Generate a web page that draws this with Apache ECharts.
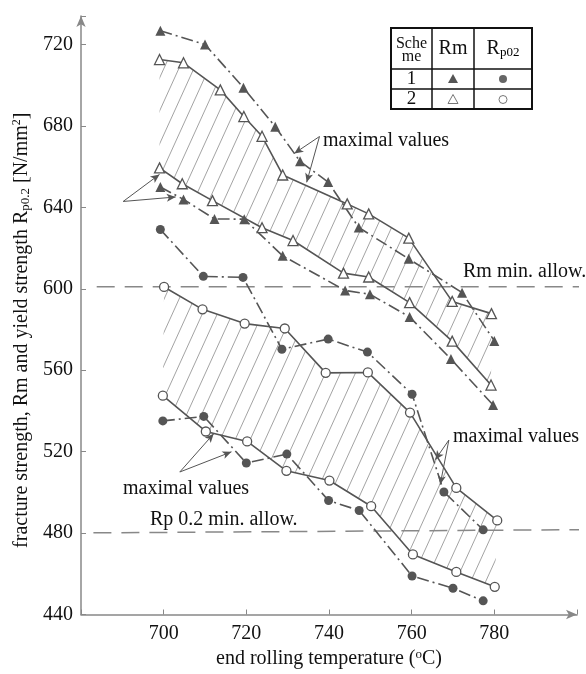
<!DOCTYPE html>
<html><head><meta charset="utf-8">
<script src="https://cdn.jsdelivr.net/npm/echarts@6/dist/echarts.min.js"></script>
<style>html,body{margin:0;padding:0;background:#fff}#c{width:586px;height:674px}</style>
</head><body><div id="c"></div>
<script>
// ---------- data ----------
const xTickLabels = [700, 720, 740, 760, 780];
const yTickLabels = [440, 480, 520, 560, 600, 640, 680, 720];

// Rm, scheme 1 (filled triangles), upper and lower curves
const rm1UpperX = [699.2, 710.0, 719.3, 727.0, 733.0, 739.8, 747.2, 759.3, 772.2, 780.0];
const rm1UpperY = [726.8, 720.0, 698.8, 679.6, 662.6, 652.4, 630.1, 614.7, 598.1, 574.4];
const rm1LowerX = [699.2, 704.8, 712.3, 719.5, 728.8, 743.9, 749.9, 759.5, 769.5, 779.7];
const rm1LowerY = [650.0, 643.9, 634.3, 634.2, 616.2, 599.2, 597.3, 586.2, 565.5, 542.9];
// Rm, scheme 2 (open triangles)
const rm2UpperX = [699.0, 704.8, 713.7, 719.4, 723.8, 728.8, 744.4, 749.6, 759.3, 769.8, 779.3];
const rm2UpperY = [712.6, 711.0, 697.7, 684.6, 674.9, 655.9, 641.7, 636.8, 624.9, 593.8, 587.8];
const rm2LowerX = [699.0, 704.5, 711.8, 723.8, 731.3, 743.5, 749.6, 759.5, 769.8, 779.2];
const rm2LowerY = [659.4, 651.6, 643.3, 630.0, 623.7, 607.7, 605.8, 593.2, 574.3, 552.7];
// Rp0.2, scheme 1 (filled circles)
const rp1UpperX = [699.2, 709.6, 719.2, 728.6, 739.8, 749.3, 760.1, 767.8, 777.3];
const rp1UpperY = [629.1, 606.1, 605.6, 570.3, 575.3, 568.9, 548.2, 500.2, 481.6];
const rp1LowerX = [699.8, 709.7, 720.0, 729.8, 739.9, 747.3, 760.1, 770.0, 777.3];
const rp1LowerY = [535.1, 537.3, 514.4, 518.8, 496.0, 491.1, 458.9, 452.9, 446.7];
// Rp0.2, scheme 2 (open circles)
const rp2UpperX = [700.1, 709.4, 719.6, 729.3, 739.2, 749.4, 759.6, 770.8, 780.7];
const rp2UpperY = [600.9, 589.9, 582.9, 580.5, 558.7, 558.9, 539.2, 502.2, 486.2];
const rp2LowerX = [699.8, 710.2, 720.2, 729.7, 740.1, 750.2, 760.3, 770.8, 780.1];
const rp2LowerY = [547.5, 529.9, 525.0, 510.6, 505.8, 493.2, 469.5, 460.9, 453.6];

// minimum allowed levels
const rmMinX = [683.8, 801.5];
const rmMinY = [601.0, 601.0];
const rpMinX = [683.0, 801.5];
const rpMinY = [480.1, 481.7];

// annotation leaders: [from, to] in data units
const leaderFrom = [[737.7, 674.8], [737.7, 674.8], [690.2, 642.9], [690.2, 642.9],
                    [769.0, 525.7], [769.0, 525.7], [703.9, 510.0], [703.9, 510.0]];
const leaderTo   = [[731.6, 666.5], [734.6, 652.3], [699.0, 656.2], [702.9, 645.1],
                    [766.9, 503.8], [765.7, 516.0], [712.1, 528.8], [716.4, 519.9]];

// ---------- chart ----------
const F = '"Liberation Serif","Times New Roman","DejaVu Serif",serif';
const INK = '#555';
const zip = (xs, ys) => xs.map((x, i) => [x, ys[i]]);

function hatchCanvas() {
  const w = 15, h = 33;
  const c = document.createElement('canvas');
  c.width = w; c.height = h;
  const g = c.getContext('2d');
  g.strokeStyle = '#999'; g.lineWidth = 0.9;
  g.beginPath();
  for (let k = -1; k <= 1; k++) { g.moveTo(k * w, h); g.lineTo((k + 1) * w, 0); }
  g.stroke();
  return c;
}
const hatch = { image: hatchCanvas(), repeat: 'repeat' };

function band(upper, lower) {
  return {
    type: 'custom', coordinateSystem: 'cartesian2d', silent: true, z: 1,
    data: [[740, 600]],
    renderItem: function (params, api) {
      const pts = upper.map(p => api.coord(p)).concat(lower.slice().reverse().map(p => api.coord(p)));
      return { type: 'polygon', shape: { points: pts }, style: { fill: hatch, stroke: null } };
    }
  };
}

function curve(data, symbol, filled, dashed) {
  return {
    type: 'line', data: data, symbol: symbol, symbolSize: symbol === 'triangle' ? 10 : 9,
    silent: true, z: 3,
    lineStyle: { color: INK, width: 1.6, type: dashed ? [12, 4, 2, 4] : 'solid' },
    itemStyle: { color: filled ? INK : '#fff', borderColor: INK, borderWidth: filled ? 0 : 1.3 }
  };
}

const rm1U = zip(rm1UpperX, rm1UpperY), rm1L = zip(rm1LowerX, rm1LowerY);
const rm2U = zip(rm2UpperX, rm2UpperY), rm2L = zip(rm2LowerX, rm2LowerY);
const rp1U = zip(rp1UpperX, rp1UpperY), rp1L = zip(rp1LowerX, rp1LowerY);
const rp2U = zip(rp2UpperX, rp2UpperY), rp2L = zip(rp2LowerX, rp2LowerY);

const minLine = (data) => ({
  type: 'line', data: data, symbol: 'none', clip: false, silent: true, z: 2,
  lineStyle: { color: '#888', width: 1.5, type: [18, 10] }
});

const leaderSeries = curve(rm1U, 'triangle', true, true);
leaderSeries.markLine = {
  silent: true, symbol: ['none', 'arrow'], symbolSize: [6, 9], animation: false,
  label: { show: false },
  lineStyle: { color: INK, width: 1, type: 'solid' },
  data: leaderFrom.map((p, i) => [{ coord: p }, { coord: leaderTo[i] }])
};

const txt = (x, y, s, size) => ({
  type: 'text', z: 10, silent: true,
  style: { x: x, y: y, text: s, font: (size || 20) + 'px ' + F, fill: '#111', verticalAlign: 'middle', align: 'left' }
});

// legend table (layout only)
const tx = [391, 432, 474, 532], ty = [28, 69, 89, 109];
const table = [];
table.push({ type: 'rect', shape: { x: tx[0], y: ty[0], width: tx[3] - tx[0], height: ty[3] - ty[0] },
  style: { fill: '#fff', stroke: '#111', lineWidth: 2 }, z: 9 });
[tx[1], tx[2]].forEach(x => table.push({ type: 'line', shape: { x1: x, y1: ty[0], x2: x, y2: ty[3] }, style: { stroke: '#111', lineWidth: 1.5 }, z: 10 }));
[ty[1], ty[2]].forEach(y => table.push({ type: 'line', shape: { x1: tx[0], y1: y, x2: tx[3], y2: y }, style: { stroke: '#111', lineWidth: 1.5 }, z: 10 }));
const ctr = (x, y, s, size) => ({ type: 'text', z: 11, style: { x: x, y: y, text: s, font: size + 'px ' + F, fill: '#111', align: 'center', verticalAlign: 'middle' } });
table.push(ctr(411.5, 44, 'Sche', 16), ctr(411.5, 57, 'me', 16), ctr(453, 49, 'Rm', 20));
table.push({ type: 'text', z: 11, style: { x: 503, y: 49, align: 'center', verticalAlign: 'middle',
  text: '{a|R}{b|p02}', rich: { a: { fontSize: 20, fontFamily: F, fill: '#111', color: '#111' }, b: { fontSize: 13, fontFamily: F, color: '#111', verticalAlign: 'bottom', padding: [8, 0, 0, 0] } } } });
table.push(ctr(411.5, 79, '1', 19), ctr(411.5, 99.5, '2', 19));
const tri = (cx, cy, filled) => ({ type: 'polygon', z: 11, shape: { points: [[cx, cy - 5], [cx + 5, cy + 4], [cx - 5, cy + 4]] },
  style: { fill: filled ? INK : '#fff', stroke: filled ? null : '#777', lineWidth: 1 } });
const cir = (cx, cy, filled) => ({ type: 'circle', z: 11, shape: { cx: cx, cy: cy, r: 4 },
  style: { fill: filled ? '#666' : '#fff', stroke: filled ? null : '#777', lineWidth: 1 } });
table.push(tri(453, 79, true), cir(503, 79, true), tri(453, 99.5, false), cir(503, 99.5, false));

const chart = echarts.init(document.getElementById('c'));
chart.setOption({
  animation: false,
  backgroundColor: '#fff',
  grid: { left: 81, right: 9, top: 16, bottom: 57 },
  xAxis: {
    type: 'value', min: 680, max: 800, interval: 20,
    axisLine: { lineStyle: { color: '#888', width: 1.5 }, symbol: ['none', 'arrow'], symbolSize: [7, 11] },
    axisTick: { inside: true, length: 5, lineStyle: { color: '#888' } },
    splitLine: { show: false },
    axisLabel: { margin: 9, color: '#111', fontSize: 20, fontFamily: F,
      formatter: v => xTickLabels.indexOf(v) >= 0 ? String(v) : '' },
    name: 'end rolling temperature ({s|o}C)', nameLocation: 'middle', nameGap: 34,
    nameTextStyle: { color: '#111', fontSize: 20, fontFamily: F,
      rich: { s: { fontSize: 13, fontFamily: F, color: '#111', verticalAlign: 'top', padding: [0, 0, 8, 0] } } }
  },
  yAxis: {
    type: 'value', min: 440, max: 734, interval: 40,
    axisLine: { lineStyle: { color: '#888', width: 1.5 }, symbol: ['none', 'arrow'], symbolSize: [7, 11] },
    axisTick: { inside: true, length: 5, lineStyle: { color: '#888' } },
    splitLine: { show: false },
    axisLabel: { margin: 8, color: '#111', fontSize: 20, fontFamily: F,
      formatter: v => yTickLabels.indexOf(v) >= 0 ? String(v) : '' },
    name: 'fracture strength, Rm and yield strength R{b|p0.2} [N/mm{s|2}]',
    nameLocation: 'middle', nameRotate: 90, nameGap: 42,
    nameTextStyle: { color: '#111', fontSize: 20, fontFamily: F, padding: [0, 30, 0, 0],
      rich: { b: { fontSize: 13, fontFamily: F, color: '#111', verticalAlign: 'bottom', padding: [8, 0, 0, 0] },
              s: { fontSize: 12, fontFamily: F, color: '#111', verticalAlign: 'top', padding: [0, 0, 8, 0] } } }
  },
  series: [
    band(rm2U, rm2L),
    band(rp2U, rp2L),
    minLine(zip(rmMinX, rmMinY)),
    minLine(zip(rpMinX, rpMinY)),
    leaderSeries,
    curve(rm1L, 'triangle', true, true),
    curve(rm2U, 'triangle', false, false),
    curve(rm2L, 'triangle', false, false),
    curve(rp1U, 'circle', true, true),
    curve(rp1L, 'circle', true, true),
    curve(rp2U, 'circle', false, false),
    curve(rp2L, 'circle', false, false)
  ],
  graphic: [
    txt(323, 141, 'maximal values'),
    txt(463, 272, 'Rm min. allow.'),
    txt(453, 437, 'maximal values'),
    txt(123, 489, 'maximal values'),
    txt(150, 520, 'Rp 0.2 min. allow.')
  ].concat(table)
});
</script>
</body></html>
